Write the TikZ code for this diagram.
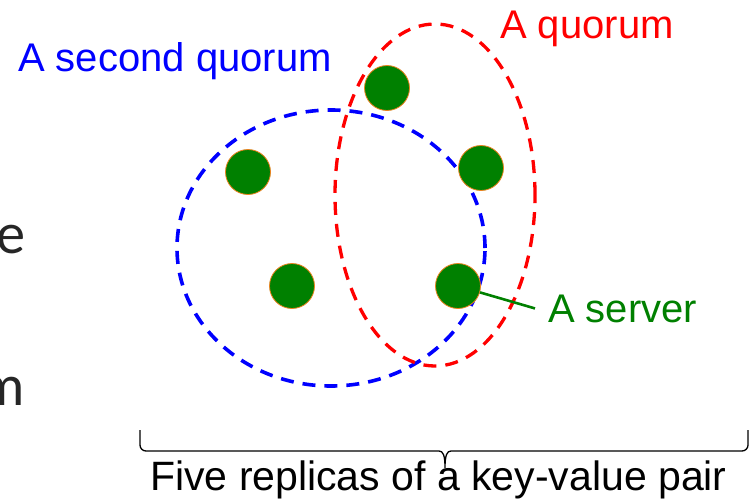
\documentclass[tikz,border=0pt]{standalone}
\usepackage{fontspec}
\setmainfont{Liberation Sans}
\newfontfamily\slidefont{Lato}
\usetikzlibrary{positioning}

\definecolor{srvgreen}{RGB}{0,128,0}
\definecolor{srvedge}{RGB}{235,130,30}

\begin{document}
\begin{tikzpicture}[
    x=1pt,
    y=-1pt,
    server/.style={circle, fill=srvgreen, draw=srvedge, line width=0.8pt,
                   minimum size=45pt, inner sep=0pt},
    quorum/.style={dash pattern=on 13pt off 9pt, line width=3.6pt},
    caption/.style={font=\fontsize{40}{48}\selectfont, inner sep=0pt, anchor=base west},
    brace/.style={line width=1.3pt}
]
\useasboundingbox (0,0) rectangle (751,503);
\clip (0,0) rectangle (751,503);

% Cut-off slide text on the left
\node[font=\slidefont\fontsize{55}{60}\selectfont, text=black!85, inner sep=0pt, anchor=base east] (cutE) at (26,253) {e};
\node[font=\slidefont\fontsize{55}{60}\selectfont, text=black!85, inner sep=0pt, anchor=base east] (cutM) at (25,405) {m};

% =========================
% Quorums
% =========================
\draw[quorum, blue] (331,248) ellipse [x radius=154pt, y radius=138pt];
\draw[quorum, red, line width=3.3pt] (435,195) ellipse [x radius=100pt, y radius=171pt];

% =========================
% Servers
% =========================
\node[server] (s1) at (387,88) {};
\node[server] (s2) at (248,172) {};
\node[server] (s3) at (481,168) {};
\node[server] (s4) at (292,286) {};
\node[server] (s5) at (458,286) {};

% Labels
\node[caption, blue] (second) at (18,71) {A second quorum};
\node[caption, red] (first) at (500,38) {A quorum};
\node[caption, srvgreen] (srv) at (548,322) {A server};

\draw[srvgreen, line width=2.6pt] (s5) -- ([xshift=-13pt]srv.west);

% =========================
% Replicas brace
% =========================
\coordinate (braceL) at (140,430);
\coordinate (braceR) at (748,430);
\coordinate (braceTip) at (445,468);

\draw[brace]
    (braceL) -- (140,445)
    to[out=-90, in=180] (146,451)
    -- (439,451)
    .. controls (443,451) and (445,455) .. (braceTip)
    .. controls (445,455) and (447,451) .. (451,451)
    -- (742,451)
    to[out=0, in=-90] (748,445)
    -- (braceR);

\node[caption, font=\fontsize{41}{48}\selectfont] (replicas) at (150,490) {Five replicas of a key-value pair};

\end{tikzpicture}
\end{document}
